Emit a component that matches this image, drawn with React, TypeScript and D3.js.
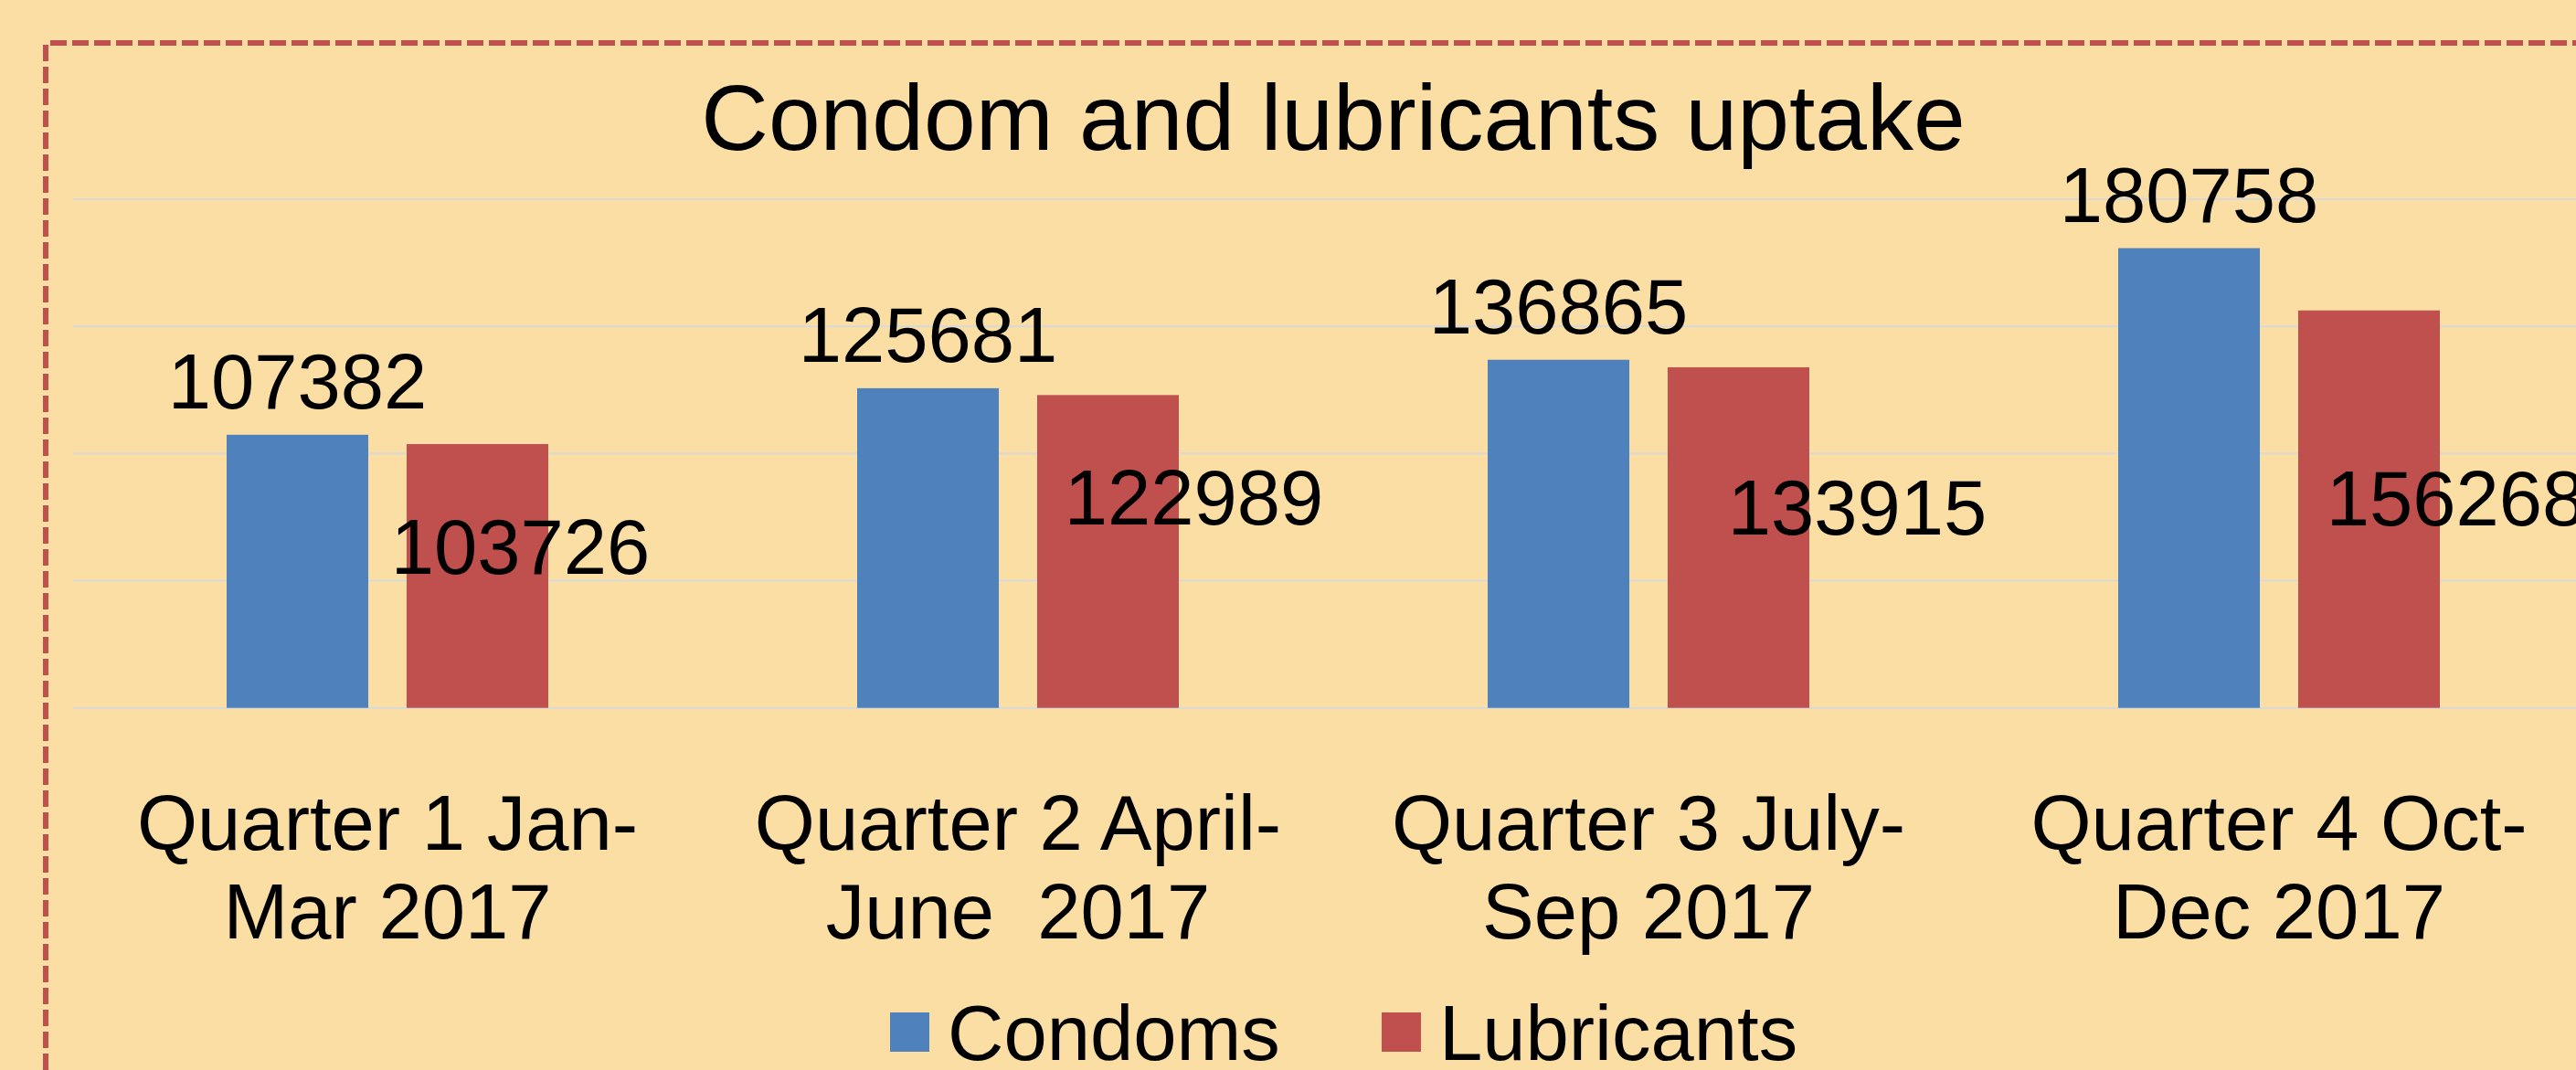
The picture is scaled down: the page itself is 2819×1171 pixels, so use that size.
import React from "react";
import * as d3 from "d3";

const categories = [
  ["Quarter 1 Jan-", "Mar 2017"],
  ["Quarter 2 April-", "June  2017"],
  ["Quarter 3 July-", "Sep 2017"],
  ["Quarter 4 Oct-", "Dec 2017"],
];
const seriesNames = ["Condoms", "Lubricants"];
const condoms = [107382, 125681, 136865, 180758];
const lubricants = [103726, 122989, 133915, 156268];
const yTicks = [0, 50000, 100000, 150000, 200000];
const title = "Condom and lubricants uptake";

// manually placed data labels for the Lubricants series (offset from bar centre / bar top)
const lubLabelDx = [47, 94, 130, 95];
const lubLabelDy = [142, 142, 183, 235];

const W = 2819;
const H = 1171;
const FONT = "'Liberation Sans', Arial, Helvetica, sans-serif";
const BG = "#FADEA4";
const COLORS = ["#4F81BD", "#C0504D"];
const FS = 85;

export default function App() {
  const plotLeft = 79;
  const band = 690;
  const x = d3
    .scaleBand<number>()
    .domain(d3.range(categories.length))
    .range([plotLeft, plotLeft + band * categories.length])
    .padding(0);
  const xSub = d3
    .scaleBand<number>()
    .domain(d3.range(seriesNames.length))
    .range([0, x.bandwidth()])
    .paddingInner(0.213)
    .paddingOuter(0.858);
  const y = d3.scaleLinear().domain([0, 200000]).range([774.7, 218]);
  const series = [condoms, lubricants];
  const bw = xSub.bandwidth();

  return (
    <div style={{ position: "fixed", left: 0, top: 0, width: W, height: H, overflow: "hidden" }}>
      <svg width={W} height={H} style={{ display: "block" }} fontFamily={FONT}>
        <rect x={0} y={0} width={W} height={H} fill={BG} />
        {/* dashed border */}
        <line x1={55} y1={47} x2={W + 10} y2={47} stroke="#C0504D" strokeWidth={6} strokeDasharray="18 6" />
        <line x1={50} y1={49} x2={50} y2={H + 10} stroke="#C0504D" strokeWidth={6} strokeDasharray="18 6" />
        {/* gridlines */}
        {yTicks.map((t) => (
          <line key={t} x1={80} x2={W} y1={y(t)} y2={y(t)} stroke="#D9D9D9" strokeWidth={2} />
        ))}
        {/* bars */}
        {series.map((vals, s) =>
          vals.map((v, i) => (
            <rect
              key={`${s}-${i}`}
              x={(x(i) as number) + (xSub(s) as number)}
              y={y(v)}
              width={bw}
              height={y(0) - y(v)}
              fill={COLORS[s]}
            />
          ))
        )}
        {/* condom labels: outside end */}
        {condoms.map((v, i) => (
          <text
            key={`cl${i}`}
            x={(x(i) as number) + (xSub(0) as number) + bw / 2}
            y={y(v) - 29}
            textAnchor="middle"
            fontSize={FS}
            fill="#000"
          >
            {v}
          </text>
        ))}
        {/* lubricant labels: custom positions */}
        {lubricants.map((v, i) => (
          <text
            key={`ll${i}`}
            x={(x(i) as number) + (xSub(1) as number) + bw / 2 + lubLabelDx[i]}
            y={y(v) + lubLabelDy[i]}
            textAnchor="middle"
            fontSize={FS}
            fill="#000"
          >
            {v}
          </text>
        ))}
        {/* category labels */}
        {categories.map((lines, i) => (
          <text
            key={`cat${i}`}
            x={(x(i) as number) + x.bandwidth() / 2}
            y={930}
            textAnchor="middle"
            fontSize={FS}
            fill="#000"
            style={{ whiteSpace: "pre" }}
          >
            {lines.map((l, k) => (
              <tspan key={k} x={(x(i) as number) + x.bandwidth() / 2} dy={k === 0 ? 0 : 96.7}>
                {l}
              </tspan>
            ))}
          </text>
        ))}
        {/* title */}
        <text x={1459} y={163.5} textAnchor="middle" fontSize={102} fill="#000">
          {title}
        </text>
        {/* legend */}
        {seriesNames.map((name, s) => {
          const lx = [974, 1512][s];
          return (
            <g key={name}>
              <rect x={lx} y={1108} width={43} height={43} fill={COLORS[s]} />
              <text x={lx + 63} y={1160} fontSize={FS} fill="#000">
                {name}
              </text>
            </g>
          );
        })}
      </svg>
    </div>
  );
}
